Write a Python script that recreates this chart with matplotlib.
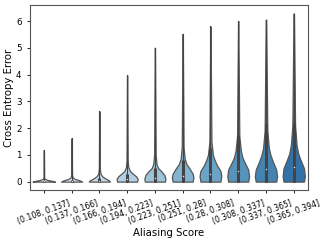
import numpy as np
import matplotlib.pyplot as plt
import seaborn as sns

labels = ['(0.108, 0.137]', '(0.137, 0.166]', '(0.166, 0.194]', '(0.194, 0.223]',
          '(0.223, 0.251]', '(0.251, 0.28]', '(0.28, 0.308]', '(0.308, 0.337]',
          '(0.337, 0.365]', '(0.365, 0.394]']

# violin outline: heights and relative half widths
prof_y = [
    [0, 0.03, 0.06, 0.10, 0.15, 1.18],
    [0, 0.05, 0.10, 0.15, 0.25, 1.62],
    [0, 0.05, 0.10, 0.20, 0.30, 0.50, 2.63],
    [0, 0.10, 0.20, 0.30, 0.40, 0.55, 0.80, 3.97],
    [0, 0.10, 0.25, 0.40, 0.50, 0.65, 1.00, 5.00],
    [0, 0.15, 0.30, 0.50, 0.65, 0.85, 1.30, 5.52],
    [0, 0.20, 0.40, 0.60, 0.80, 1.00, 1.50, 5.80],
    [0, 0.20, 0.45, 0.70, 0.90, 1.15, 1.70, 6.00],
    [0, 0.20, 0.45, 0.75, 1.00, 1.25, 1.90, 6.05],
    [0, 0.20, 0.50, 0.80, 1.05, 1.35, 2.10, 6.28],
]
prof_w = [
    [1.0, 0.75, 0.35, 0.08, 0.03, 0.01],
    [0.95, 0.70, 0.30, 0.10, 0.04, 0.01],
    [0.95, 0.85, 0.60, 0.25, 0.10, 0.04, 0.01],
    [0.90, 0.95, 0.80, 0.50, 0.25, 0.10, 0.05, 0.01],
    [0.90, 0.95, 0.85, 0.55, 0.30, 0.15, 0.07, 0.01],
    [0.90, 0.97, 0.90, 0.60, 0.35, 0.18, 0.08, 0.01],
    [0.90, 0.98, 0.90, 0.60, 0.38, 0.22, 0.09, 0.01],
    [0.90, 0.98, 0.90, 0.60, 0.38, 0.24, 0.10, 0.01],
    [0.92, 1.00, 0.92, 0.62, 0.40, 0.26, 0.12, 0.02],
    [0.92, 1.00, 0.92, 0.62, 0.40, 0.26, 0.12, 0.02],
]
q1 = [0.0, 0.0, 0.0, 0.0, 0.0, 0.0, 0.0, 0.0, 0.0, 0.0]
med = [0.01, 0.02, 0.04, 0.08, 0.13, 0.2, 0.3, 0.4, 0.48, 0.55]
q3 = [0.04, 0.07, 0.15, 0.3, 0.5, 0.8, 1.25, 1.75, 2.15, 2.2]

cmap = plt.get_cmap('Blues')
cols = [sns.desaturate(cmap(v), 0.8) for v in np.linspace(0.12, 0.74, 10)]
lc = '#444444'

fig = plt.figure(figsize=(3.29, 2.43), dpi=100)
ax = fig.add_axes([0.091, 0.218, 0.844, 0.761])

for i in range(10):
    y = np.array(prof_y[i])
    w = np.array(prof_w[i]) * 0.4
    ax.fill_betweenx(y, i - w, i + w, facecolor=cols[i], edgecolor='#555555', linewidth=0.9, zorder=1)
    # inner box
    ax.plot([i, i], [0, prof_y[i][-1]], color=lc, lw=0.8, zorder=2)
    ax.plot([i, i], [q1[i], q3[i]], color=lc, lw=2.2, solid_capstyle='butt', zorder=3)
    ax.scatter([i], [med[i]], s=1.2, color='#dddddd', linewidths=0, zorder=4)

ax.set_xlim(-0.5, 9.5)
ax.set_ylim(-0.314, 6.594)
ax.set_xticks(range(10))
ax.set_xticklabels(labels, rotation=20, fontsize=5.6)
ax.tick_params(axis='y', labelsize=6.3)
ax.tick_params(length=2.5, width=0.6)
ax.set_xlabel('Aliasing Score', fontsize=7.3, labelpad=1.5)
ax.set_ylabel('Cross Entropy Error', fontsize=7.3, labelpad=1.5)
for s in ax.spines.values():
    s.set_linewidth(0.8)
    s.set_color('#555555')

fig.savefig('out.png', dpi=100)
